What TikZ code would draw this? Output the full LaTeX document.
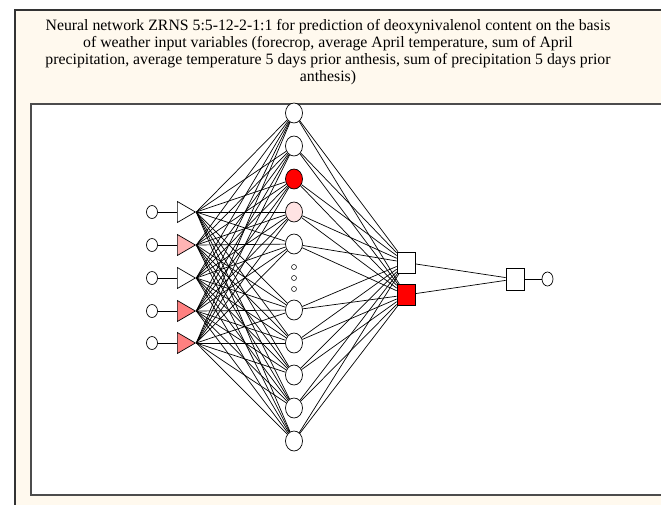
\documentclass[tikz,border=0pt]{standalone}
\usepackage{fontspec}
\setmainfont{Liberation Serif}
\usepackage{xcolor}
\usepackage{tikz}
\usetikzlibrary{shapes.geometric}

\definecolor{panelcream}{HTML}{FFF9EE}
\definecolor{trilight}{HTML}{FFB3B3}
\definecolor{trimid}{HTML}{FF8080}
\definecolor{hidpale}{HTML}{FFE3E3}

\begin{document}
\begin{tikzpicture}[x=1pt, y=-1pt,
  wire/.style={line width=0.7pt},
  inp/.style={draw, ellipse, line width=0.7pt, minimum width=11pt, minimum height=13pt, inner sep=0pt, fill=white},
  tri/.style={draw, isosceles triangle, isosceles triangle stretches, line width=0.7pt, minimum width=21pt, minimum height=18pt, inner sep=0pt, fill=white, anchor=lower side},
  hid/.style={draw, ellipse, line width=0.7pt, minimum width=17pt, minimum height=20pt, inner sep=0pt, fill=white},
  sq/.style={draw, rectangle, line width=0.7pt, minimum width=18pt, minimum height=21pt, inner sep=0pt, fill=white},
  gap/.style={draw, circle, line width=0.5pt, minimum size=5pt, inner sep=0pt}]
  \useasboundingbox (0,0) rectangle (661,504);

  % Panel and plot area
  \fill[panelcream] (15,10) rectangle (680,520);
  \draw[line width=1.5pt, black!80] (15,520) -- (15,10) -- (680,10);
  \fill[white] (31,104) rectangle (680,495);
  \draw[line width=1.2pt, black!70] (680,104) -- (31,104) -- (31,495) -- (680,495);

  \node[align=center, font=\fontsize{15.8}{17}\selectfont] (title) at (328, 52)
    {Neural network ZRNS 5:5-12-2-1:1 for prediction of deoxynivalenol content on the basis\\
     of weather input variables (forecrop, average April temperature, sum of April\\
     precipitation, average temperature 5 days prior anthesis, sum of precipitation 5 days prior\\
     anthesis)};

  % Inputs
  \node[inp] (i1) at (152, 212) {};
  \node[inp] (i2) at (152, 245) {};
  \node[inp] (i3) at (152, 278) {};
  \node[inp] (i4) at (152, 311) {};
  \node[inp] (i5) at (152, 343) {};

  \node[tri] (t1) at (177, 212) {};
  \node[tri, fill=trilight] (t2) at (177, 245) {};
  \node[tri] (t3) at (177, 278) {};
  \node[tri, fill=trimid] (t4) at (177, 311) {};
  \node[tri, fill=trimid] (t5) at (177, 343) {};

  % Hidden layer
  \node[hid] (h1) at (294, 113) {};
  \node[hid] (h2) at (294, 146) {};
  \node[hid, fill=red] (h3) at (294, 179) {};
  \node[hid, fill=hidpale] (h4) at (294, 212) {};
  \node[hid] (h5) at (294, 244) {};
  \node[hid] (h6) at (294, 310) {};
  \node[hid] (h7) at (294, 343) {};
  \node[hid] (h8) at (294, 375) {};
  \node[hid] (h9) at (294, 408) {};
  \node[hid] (h10) at (294, 441) {};

  \node[gap] (g1) at (294, 267) {};
  \node[gap] (g2) at (294, 278) {};
  \node[gap] (g3) at (294, 289) {};

  % Second layer and output
  \node[sq] (o1) at (406, 262.5) {};
  \node[sq, fill=red] (o2) at (406, 295) {};
  \node[sq, minimum height=22pt] (f) at (515, 279) {};
  \node[inp, minimum height=14pt] (out) at (547.5, 279) {};

  % Connections
  \foreach \i in {1,...,5} {
    \draw[wire] (i\i.east) -- (t\i.lower side);
    \foreach \j in {1,...,10}
      \draw[wire] (t\i.apex) -- (h\j);
  }
  \foreach \j in {1,...,10} {
    \draw[wire] (h\j) -- (o1);
    \draw[wire] (h\j) -- (o2);
  }
  \draw[wire] (o1) -- (f);
  \draw[wire] (o2) -- (f);
  \draw[wire] (f) -- (out);
\end{tikzpicture}
\end{document}
